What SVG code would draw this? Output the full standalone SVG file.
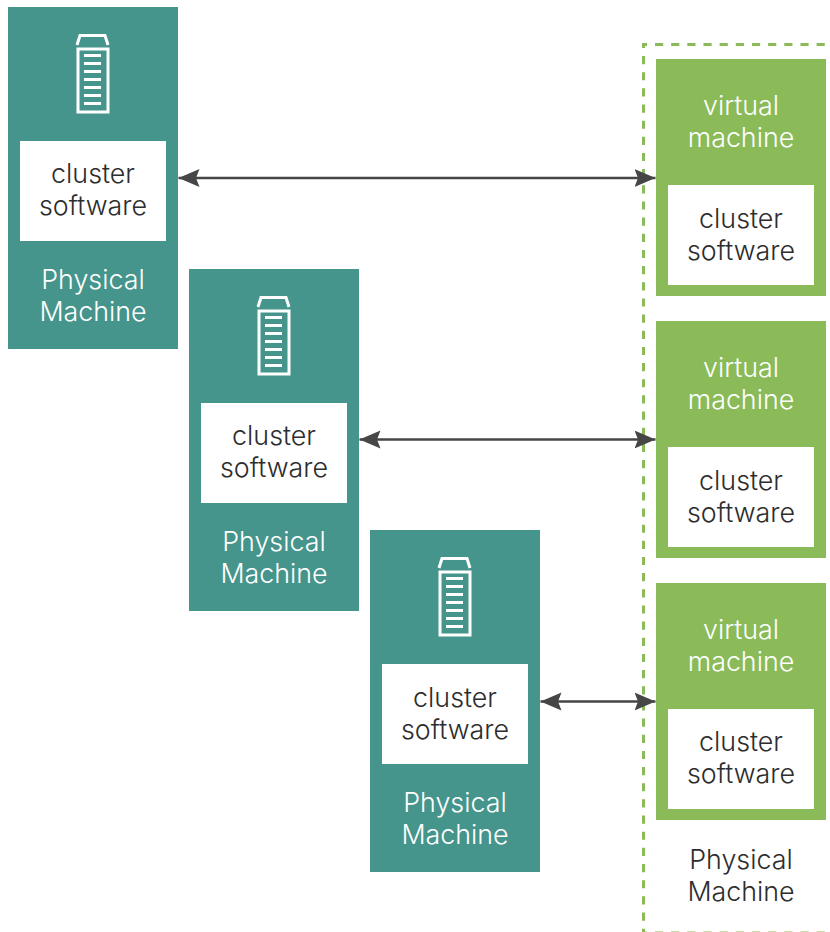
<svg xmlns="http://www.w3.org/2000/svg" width="830" height="932" viewBox="0 0 830 932">
<style>
text{font-family:"Inter","Lato","Liberation Sans",sans-serif;font-size:26.8px;font-weight:300;text-anchor:middle}
.d{fill:#2d2d2d}.w{fill:#fff}
.teal{fill:#45958c}.green{fill:#8abb58}.box{fill:#fff}
.ico{fill:none;stroke:#fff;stroke-width:3}
.bar{stroke:#fff;stroke-width:3}
.conn{stroke:#464646;stroke-width:2.500;fill:none;marker-start:url(#a);marker-end:url(#a)}
</style>
<defs>
<marker id="a" viewBox="0 0 22 20" refX="21" refY="10" markerWidth="22" markerHeight="20" markerUnits="userSpaceOnUse" orient="auto-start-reverse"><path d="M21 10 0 1 3.500 10 0 19Z" fill="#464646"/></marker>
<clipPath id="c"><rect x="0" y="0" width="826" height="932"/></clipPath>
<g id="server">
<path class="ico" d="M77 45 80 35.500H105L108 45"/>
<rect class="ico" x="78" y="49" width="30" height="63"/>
<path class="bar" d="M84 55.500H101M84 63.500H101M84 71.500H101M84 79.500H101M84 87.500H101M84 95.500H101M84 103.500H101"/>
</g>
</defs>
<g id="host" clip-path="url(#c)">
<path d="M643.500 43V932" fill="none" stroke="#8abb58" stroke-width="3" stroke-dasharray="8.160 8" stroke-dashoffset="3.160"/>
<path d="M642 44.500H826" fill="none" stroke="#8abb58" stroke-width="3" stroke-dasharray="8.160 8" stroke-dashoffset="3.160"/>
<path d="M642 933.100H826" fill="none" stroke="#8abb58" stroke-width="3" stroke-dasharray="8.160 8" stroke-dashoffset="3.160"/>
<text class="d" x="741" y="868.500">Physical</text>
<text class="d" x="741" y="900.500">Machine</text>
</g>
<g id="pm1">
<rect class="teal" x="8" y="7" width="170" height="342"/>
<use href="#server"/>
<rect class="box" x="20" y="141" width="146" height="100"/>
<text class="d" x="93" y="182.500">cluster</text>
<text class="d" x="93" y="214.500">software</text>
<text class="w" x="93" y="288.500">Physical</text>
<text class="w" x="93" y="320.500">Machine</text>
</g>
<g id="pm2">
<rect class="teal" x="189" y="269" width="170" height="342"/>
<use href="#server" x="181" y="262"/>
<rect class="box" x="201" y="403" width="146" height="100"/>
<text class="d" x="274" y="444.500">cluster</text>
<text class="d" x="274" y="476.500">software</text>
<text class="w" x="274" y="550.500">Physical</text>
<text class="w" x="274" y="582.500">Machine</text>
</g>
<g id="pm3">
<rect class="teal" x="370" y="530" width="170" height="342"/>
<use href="#server" x="362" y="523"/>
<rect class="box" x="382" y="664" width="146" height="100"/>
<text class="d" x="455" y="706.500">cluster</text>
<text class="d" x="455" y="738.500">software</text>
<text class="w" x="455" y="811.500">Physical</text>
<text class="w" x="455" y="843.500">Machine</text>
</g>
<g id="vm1">
<rect class="green" x="656" y="59" width="170" height="237"/>
<rect class="box" x="668" y="185" width="146" height="100"/>
<text class="w" x="741" y="114.500">virtual</text>
<text class="w" x="741" y="146.500">machine</text>
<text class="d" x="741" y="227.500">cluster</text>
<text class="d" x="741" y="259.500">software</text>
</g>
<g id="vm2">
<rect class="green" x="656" y="321" width="170" height="237"/>
<rect class="box" x="668" y="447" width="146" height="100"/>
<text class="w" x="741" y="376.500">virtual</text>
<text class="w" x="741" y="408.500">machine</text>
<text class="d" x="741" y="489.500">cluster</text>
<text class="d" x="741" y="521.500">software</text>
</g>
<g id="vm3">
<rect class="green" x="656" y="583" width="170" height="237"/>
<rect class="box" x="668" y="709" width="146" height="100"/>
<text class="w" x="741" y="638.500">virtual</text>
<text class="w" x="741" y="670.500">machine</text>
<text class="d" x="741" y="750.500">cluster</text>
<text class="d" x="741" y="782.500">software</text>
</g>
<g id="connectors">
<path class="conn" d="M178.500 178H655.500"/>
<path class="conn" d="M359.500 439.500H655.500"/>
<path class="conn" d="M540.500 701.500H655.500"/>
</g>
</svg>
